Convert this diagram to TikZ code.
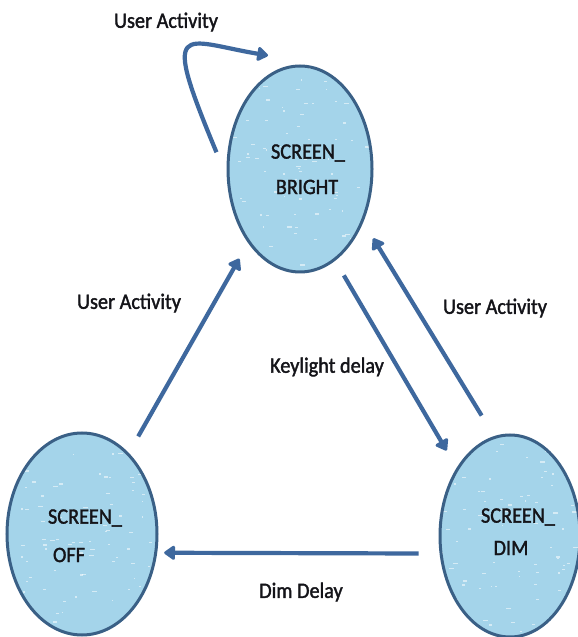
\documentclass[tikz,border=0pt]{standalone}
\usepackage{fontspec}
\setmainfont{Carlito}[FakeBold=1.6, FakeStretch=0.92]
\usetikzlibrary{arrows.meta,shapes.geometric,calc}

\definecolor{stateFill}{RGB}{164,212,234}
\definecolor{stateEdge}{RGB}{58,96,134}
\definecolor{wire}{RGB}{62,104,158}
\definecolor{ink}{RGB}{20,20,25}

\tikzset{
  state/.style={ellipse, draw=stateEdge, line width=3pt, fill=stateFill,
    inner sep=0pt,
    path picture={
      % light speckled texture inside each state
      \foreach \i in {1,...,90}{
        \fill[white, opacity=0.55]
          ($(path picture bounding box.center)+({rand*72},{rand*100})$)
          rectangle +({1+rnd*4},{0.8+rnd*0.8});
      }
    }},
  stxt/.style={font=\fontsize{22}{26}\selectfont, text=ink, inner sep=0pt},
  arr/.style={draw=wire, line width=4.2pt, line join=round,
    -{Triangle[length=12pt,width=16pt,round]}}
}

\begin{document}
\begin{tikzpicture}[x=1pt,y=1pt]
  \pgfmathsetseed{7}
  \useasboundingbox[fill=white] (0,0) rectangle (578,637);

  % states
  \node[state, minimum width=144pt, minimum height=206pt] (bright) at (300,468) {};
  \node[state, minimum width=150pt, minimum height=202pt] (off)    at (82,103)  {};
  \node[state, minimum width=140pt, minimum height=202pt] (dim)    at (510,101) {};

  % state names
  \node[stxt] (brightA) at (308,484) {SCREEN\_};
  \node[stxt] (brightB) at (307,450) {BRIGHT};
  \node[stxt] (offA)    at (85,119)  {SCREEN\_};
  \node[stxt] (offB)    at (69,82)   {OFF};
  \node[stxt] (dimA)    at (518,120) {SCREEN\_};
  \node[stxt] (dimB)    at (511,89)  {DIM};

  % transitions
  \coordinate (loopTip) at ($(bright.north)+(-32,9)$);
  \draw[arr] ([xshift=-11pt]bright.167) .. controls (160,620) and (182,596) .. (loopTip);
  \draw[arr, shorten <=19pt, shorten >=18pt] (off.60.5) -- (bright.235);
  \draw[arr, shorten <=17pt, shorten >=20pt] (bright.-69) -- (dim.128);
  \draw[arr, shorten <=24pt, shorten >=19pt] (dim.99) -- (bright.-40.5);
  \draw[arr, shorten <=21pt, shorten >=7pt] (dim.-166) -- (off.-14.5);

  % transition labels
  \node[stxt] (lLoop)  at (166,615) {User Activity};
  \node[stxt] (lUp)    at (129,334) {User Activity};
  \node[stxt] (lBack)  at (495,329) {User Activity};
  \node[stxt] (lKey)   at (327,270) {Keylight delay};
  \node[stxt] (lDim)   at (301,45)  {Dim Delay};
\end{tikzpicture}
\end{document}
